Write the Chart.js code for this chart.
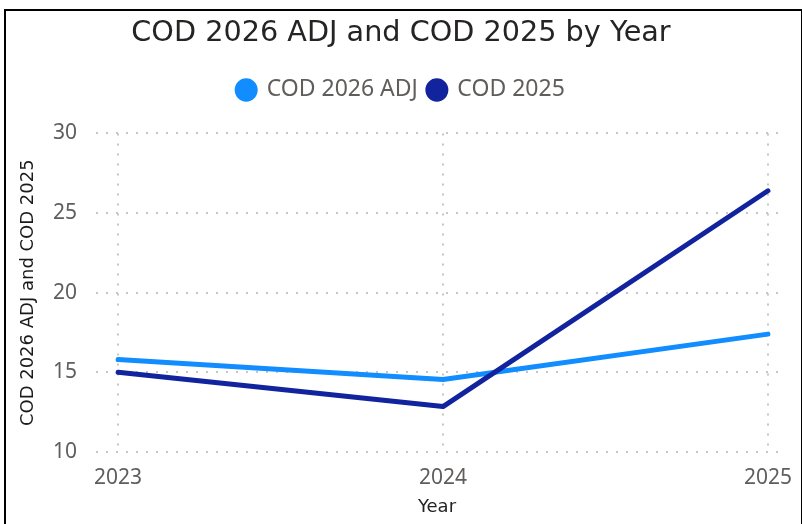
<!DOCTYPE html>
<html>
<head>
<meta charset="utf-8">
<script src="https://cdn.jsdelivr.net/npm/chart.js@4"></script>
<style>
  html, body { margin: 0; padding: 0; background: #fff; overflow: hidden; }
  #wrap { position: relative; width: 802px; height: 524px; }
  #frame { position: absolute; left: 4px; top: 9px; width: 795px; height: 600px; border: 2px solid #000; pointer-events: none; }
</style>
</head>
<body>
<div id="wrap">
  <canvas id="cod-chart"></canvas>
  <div id="frame"></div>
</div>
<script>
const years = [2023, 2024, 2025];
const cod2026Adj = [15.8, 14.55, 17.4];
const cod2025 = [15.0, 12.85, 26.4];
const yTicks = [10, 15, 20, 25, 30];

const pts = vals => years.map((y, i) => ({ x: y, y: vals[i] }));
const gridDots = { color: '#c8c6c4', lineWidth: 2, drawTicks: false };
const hidden = { display: false };
const lineStyle = { borderWidth: 5, pointRadius: 0, borderCapStyle: 'round', borderJoinStyle: 'round', xAxisID: 'x', yAxisID: 'y' };

new Chart(document.getElementById('cod-chart'), {
  type: 'line',
  data: {
    datasets: [
      { label: 'COD 2026 ADJ', data: pts(cod2026Adj), borderColor: '#118DFF', backgroundColor: '#118DFF', order: 1, ...lineStyle },
      { label: 'COD 2025', data: pts(cod2025), borderColor: '#12239E', backgroundColor: '#12239E', order: 0, ...lineStyle }
    ]
  },
  options: {
    responsive: true,
    maintainAspectRatio: false,
    animation: false,
    layout: { padding: 0 },
    plugins: {
      title: {
        display: true,
        text: 'COD 2026 ADJ and COD 2025 by Year',
        color: '#252423',
        font: { family: 'DejaVu Sans', size: 28.7, weight: 'normal' },
        padding: { top: 16, bottom: 18 }
      },
      legend: {
        labels: {
          usePointStyle: true, pointStyle: 'circle', boxHeight: 13, pointStyleWidth: 18,
          color: '#605E5C', padding: 10,
          font: { family: 'Noto Sans', size: 23 },
          sort: (a, b) => a.datasetIndex - b.datasetIndex
        }
      },
      tooltip: { enabled: false }
    },
    scales: {
      x: {
        type: 'linear', position: 'bottom',
        min: 2022.932, max: 2025.031,
        afterBuildTicks: s => { s.ticks = years.map(v => ({ value: v })); },
        ticks: { callback: v => String(v), color: '#605E5C', padding: 13, maxRotation: 0, font: { family: 'Noto Sans', size: 21 } },
        grid: gridDots,
        border: { display: false, dash: [2, 8] },
        title: { display: true, text: 'Year', color: '#252423', padding: { top: 0, bottom: 6 }, font: { family: 'DejaVu Sans', size: 18 } },
        afterFit: s => { s.height = 72; s.paddingLeft = 0; s.paddingRight = 0; }
      },
      y: {
        min: 10, max: 30,
        afterBuildTicks: s => { s.ticks = yTicks.map(v => ({ value: v })); },
        ticks: { color: '#605E5C', padding: 19, font: { family: 'Noto Sans', size: 21 } },
        grid: gridDots,
        border: { display: false, dash: [2, 8] },
        title: { display: true, text: 'COD 2026 ADJ and COD 2025', color: '#1b1a19', padding: { top: 18, bottom: 0 }, font: { family: 'DejaVu Sans', size: 18 } },
        afterFit: s => { s.width = 96; }
      },
      // empty bands: gap under the legend and margin right of the plot
      gapTop: {
        type: 'linear', position: 'top', display: true,
        grid: hidden, border: hidden, ticks: hidden,
        afterFit: s => { s.height = 22; }
      },
      gapRight: {
        type: 'linear', position: 'right', display: true,
        grid: hidden, border: hidden, ticks: hidden,
        afterFit: s => { s.width = 24; }
      }
    }
  }
});
</script>
</body>
</html>
